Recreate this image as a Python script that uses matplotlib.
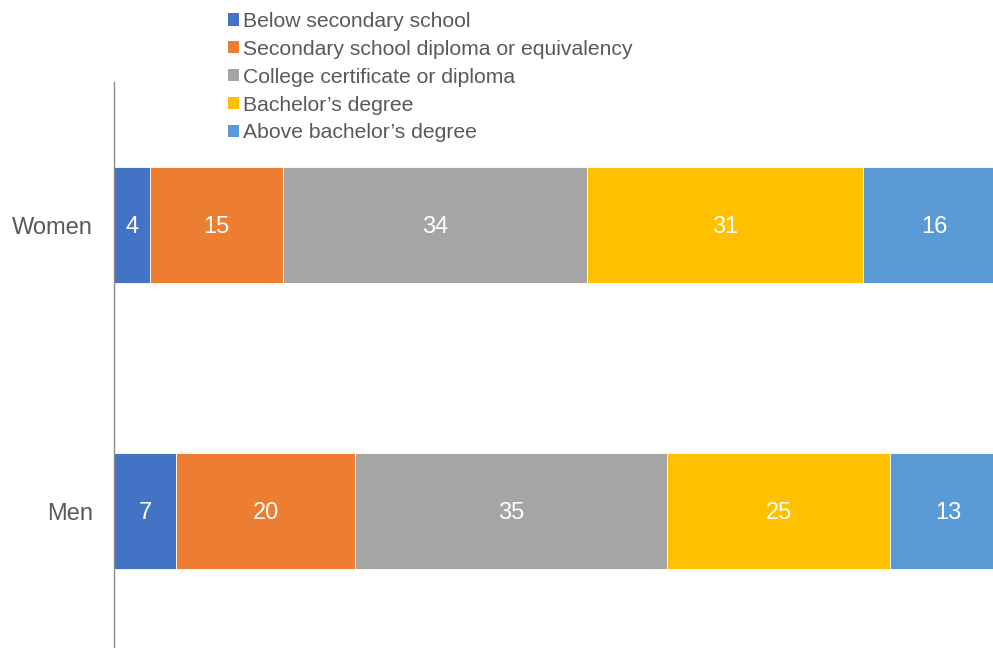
import matplotlib
matplotlib.use("Agg")
import matplotlib.pyplot as plt
from matplotlib.patches import Patch

plt.rcParams['font.family'] = ['Liberation Sans', 'DejaVu Sans']

groups = ["Women", "Men"]
levels = [
    "Below secondary school",
    "Secondary school diploma or equivalency",
    "College certificate or diploma",
    "Bachelor\u2019s degree",
    "Above bachelor\u2019s degree",
]
women = [4, 15, 34, 31, 16]
men = [7, 20, 35, 25, 13]
colors = ["#4472C4", "#ED7D31", "#A5A5A5", "#FFC000", "#5B9BD5"]

W, H = 993, 648
fig = plt.figure(figsize=(W / 100, H / 100), dpi=100)
# axes extends slightly past the right and bottom edges of the canvas
left, right = 114, 1006
top, bottom = 82, 654
ax = fig.add_axes([left / W, 1 - bottom / H, (right - left) / W, (bottom - top) / H])

values = {"Women": women, "Men": men}
ypos = {"Women": 1, "Men": 0}
bar_h = 0.405
for g in groups:
    start = 0
    for v, c in zip(values[g], colors):
        ax.barh(ypos[g], v, left=start, height=bar_h, color=c,
                edgecolor="white", linewidth=0.6)
        ax.text(start + v / 2, ypos[g] - 0.006, str(v), ha="center", va="center",
                color="white", fontsize=17)
        start += v

ax.set_xlim(0, 100)
ax.set_ylim(-0.5, 1.5)
ax.set_yticks([ypos[g] for g in groups])
ax.set_yticklabels(groups, fontsize=17, color="#595959")
ax.tick_params(axis="y", length=0, pad=15)
ax.set_xticks([])
for s in ["top", "right", "bottom"]:
    ax.spines[s].set_visible(False)
ax.spines["left"].set_color("#8C8C8C")
ax.spines["left"].set_linewidth(1.0)

handles = [Patch(facecolor=c, edgecolor="none") for c in colors]
fig.legend(handles, levels, loc="upper left",
           bbox_to_anchor=(228 / W, 1 - 12 / H), frameon=False,
           fontsize=15.2, labelcolor="#595959",
           handlelength=0.5, handleheight=0.5, handletextpad=0.2,
           labelspacing=0.42, borderaxespad=0, borderpad=0)

fig.savefig("out.png", dpi=100)
